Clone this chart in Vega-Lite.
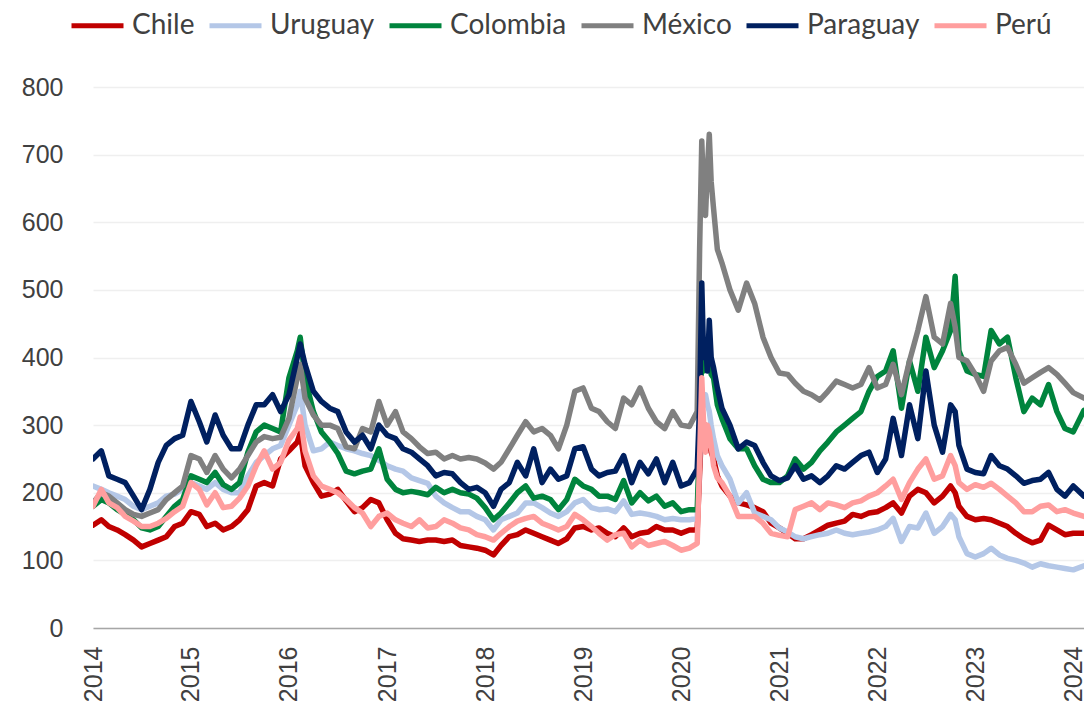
{
  "$schema": "https://vega.github.io/schema/vega-lite/v6.json",
  "width": 991,
  "height": 541,
  "autosize": {"type": "none"},
  "padding": {"left": 93, "top": 87, "right": 0, "bottom": 82},
  "background": "white",
  "config": {"view": {"stroke": null}},
  "data": {"values": [
    {"d":"2014-01-01","Chile":152,"Uruguay":210,"Colombia":180,"México":185,"Paraguay":250,"Perú":180},
    {"d":"2014-02-01","Chile":160,"Uruguay":205,"Colombia":190,"México":200,"Paraguay":262,"Perú":205},
    {"d":"2014-03-01","Chile":150,"Uruguay":200,"Colombia":185,"México":195,"Paraguay":225,"Perú":185},
    {"d":"2014-04-01","Chile":145,"Uruguay":195,"Colombia":175,"México":185,"Paraguay":220,"Perú":178},
    {"d":"2014-05-01","Chile":138,"Uruguay":190,"Colombia":168,"México":175,"Paraguay":215,"Perú":165},
    {"d":"2014-06-01","Chile":130,"Uruguay":180,"Colombia":160,"México":168,"Paraguay":195,"Perú":158},
    {"d":"2014-07-01","Chile":120,"Uruguay":175,"Colombia":148,"México":165,"Paraguay":175,"Perú":150},
    {"d":"2014-08-01","Chile":125,"Uruguay":180,"Colombia":145,"México":170,"Paraguay":205,"Perú":150},
    {"d":"2014-09-01","Chile":130,"Uruguay":185,"Colombia":150,"México":175,"Paraguay":245,"Perú":155},
    {"d":"2014-10-01","Chile":135,"Uruguay":195,"Colombia":165,"México":190,"Paraguay":270,"Perú":162},
    {"d":"2014-11-01","Chile":150,"Uruguay":198,"Colombia":180,"México":200,"Paraguay":280,"Perú":172},
    {"d":"2014-12-01","Chile":155,"Uruguay":205,"Colombia":190,"México":210,"Paraguay":285,"Perú":180},
    {"d":"2015-01-01","Chile":172,"Uruguay":215,"Colombia":225,"México":255,"Paraguay":335,"Perú":215},
    {"d":"2015-02-01","Chile":168,"Uruguay":210,"Colombia":220,"México":250,"Paraguay":305,"Perú":205},
    {"d":"2015-03-01","Chile":150,"Uruguay":205,"Colombia":215,"México":230,"Paraguay":275,"Perú":182},
    {"d":"2015-04-01","Chile":155,"Uruguay":215,"Colombia":230,"México":255,"Paraguay":315,"Perú":200},
    {"d":"2015-05-01","Chile":145,"Uruguay":205,"Colombia":212,"México":235,"Paraguay":285,"Perú":178},
    {"d":"2015-06-01","Chile":150,"Uruguay":200,"Colombia":205,"México":222,"Paraguay":265,"Perú":180},
    {"d":"2015-07-01","Chile":160,"Uruguay":200,"Colombia":215,"México":235,"Paraguay":265,"Perú":192},
    {"d":"2015-08-01","Chile":175,"Uruguay":225,"Colombia":260,"México":255,"Paraguay":300,"Perú":210},
    {"d":"2015-09-01","Chile":210,"Uruguay":245,"Colombia":290,"México":275,"Paraguay":330,"Perú":240},
    {"d":"2015-10-01","Chile":215,"Uruguay":255,"Colombia":300,"México":283,"Paraguay":330,"Perú":262},
    {"d":"2015-11-01","Chile":210,"Uruguay":265,"Colombia":295,"México":280,"Paraguay":345,"Perú":235},
    {"d":"2015-12-01","Chile":250,"Uruguay":270,"Colombia":290,"México":282,"Paraguay":320,"Perú":245},
    {"d":"2016-01-01","Chile":262,"Uruguay":300,"Colombia":370,"México":310,"Paraguay":345,"Perú":278},
    {"d":"2016-02-01","Chile":275,"Uruguay":330,"Colombia":410,"México":370,"Paraguay":400,"Perú":295},
    {"d":"2016-02-12","Chile":288,"Uruguay":350,"Colombia":430,"México":390,"Paraguay":420,"Perú":312},
    {"d":"2016-03-01","Chile":240,"Uruguay":300,"Colombia":370,"México":340,"Paraguay":390,"Perú":262},
    {"d":"2016-04-01","Chile":215,"Uruguay":262,"Colombia":320,"México":315,"Paraguay":350,"Perú":225},
    {"d":"2016-05-01","Chile":195,"Uruguay":265,"Colombia":290,"México":300,"Paraguay":335,"Perú":210},
    {"d":"2016-06-01","Chile":198,"Uruguay":275,"Colombia":275,"México":300,"Paraguay":325,"Perú":205},
    {"d":"2016-07-01","Chile":205,"Uruguay":270,"Colombia":258,"México":295,"Paraguay":320,"Perú":200},
    {"d":"2016-08-01","Chile":188,"Uruguay":265,"Colombia":232,"México":268,"Paraguay":290,"Perú":190},
    {"d":"2016-09-01","Chile":172,"Uruguay":262,"Colombia":228,"México":265,"Paraguay":275,"Perú":178},
    {"d":"2016-10-01","Chile":178,"Uruguay":258,"Colombia":232,"México":295,"Paraguay":285,"Perú":170},
    {"d":"2016-11-01","Chile":190,"Uruguay":255,"Colombia":235,"México":290,"Paraguay":265,"Perú":150},
    {"d":"2016-12-01","Chile":185,"Uruguay":248,"Colombia":265,"México":335,"Paraguay":300,"Perú":165},
    {"d":"2017-01-01","Chile":160,"Uruguay":240,"Colombia":220,"México":300,"Paraguay":285,"Perú":170},
    {"d":"2017-02-01","Chile":140,"Uruguay":235,"Colombia":205,"México":320,"Paraguay":280,"Perú":160},
    {"d":"2017-03-01","Chile":132,"Uruguay":232,"Colombia":200,"México":290,"Paraguay":265,"Perú":155},
    {"d":"2017-04-01","Chile":130,"Uruguay":222,"Colombia":202,"México":280,"Paraguay":260,"Perú":150},
    {"d":"2017-05-01","Chile":128,"Uruguay":218,"Colombia":200,"México":268,"Paraguay":250,"Perú":160},
    {"d":"2017-06-01","Chile":130,"Uruguay":214,"Colombia":197,"México":258,"Paraguay":240,"Perú":148},
    {"d":"2017-07-01","Chile":130,"Uruguay":195,"Colombia":208,"México":260,"Paraguay":225,"Perú":150},
    {"d":"2017-08-01","Chile":128,"Uruguay":185,"Colombia":200,"México":250,"Paraguay":230,"Perú":160},
    {"d":"2017-09-01","Chile":130,"Uruguay":178,"Colombia":205,"México":255,"Paraguay":228,"Perú":155},
    {"d":"2017-10-01","Chile":122,"Uruguay":172,"Colombia":200,"México":250,"Paraguay":215,"Perú":148},
    {"d":"2017-11-01","Chile":120,"Uruguay":172,"Colombia":198,"México":252,"Paraguay":205,"Perú":145},
    {"d":"2017-12-01","Chile":118,"Uruguay":165,"Colombia":192,"México":250,"Paraguay":208,"Perú":138},
    {"d":"2018-01-01","Chile":115,"Uruguay":160,"Colombia":178,"México":244,"Paraguay":200,"Perú":135},
    {"d":"2018-02-01","Chile":108,"Uruguay":145,"Colombia":160,"México":235,"Paraguay":180,"Perú":130},
    {"d":"2018-03-01","Chile":122,"Uruguay":160,"Colombia":170,"México":245,"Paraguay":205,"Perú":140},
    {"d":"2018-04-01","Chile":135,"Uruguay":165,"Colombia":185,"México":265,"Paraguay":215,"Perú":150},
    {"d":"2018-05-01","Chile":138,"Uruguay":170,"Colombia":200,"México":285,"Paraguay":245,"Perú":158},
    {"d":"2018-06-01","Chile":145,"Uruguay":185,"Colombia":210,"México":305,"Paraguay":225,"Perú":162},
    {"d":"2018-07-01","Chile":140,"Uruguay":185,"Colombia":192,"México":290,"Paraguay":265,"Perú":165},
    {"d":"2018-08-01","Chile":135,"Uruguay":178,"Colombia":195,"México":295,"Paraguay":215,"Perú":155},
    {"d":"2018-09-01","Chile":130,"Uruguay":170,"Colombia":190,"México":285,"Paraguay":235,"Perú":150},
    {"d":"2018-10-01","Chile":125,"Uruguay":165,"Colombia":175,"México":265,"Paraguay":220,"Perú":145},
    {"d":"2018-11-01","Chile":132,"Uruguay":172,"Colombia":190,"México":300,"Paraguay":225,"Perú":150},
    {"d":"2018-12-01","Chile":148,"Uruguay":185,"Colombia":220,"México":350,"Paraguay":265,"Perú":168},
    {"d":"2019-01-01","Chile":150,"Uruguay":190,"Colombia":210,"México":355,"Paraguay":268,"Perú":160},
    {"d":"2019-02-01","Chile":145,"Uruguay":178,"Colombia":205,"México":325,"Paraguay":235,"Perú":150},
    {"d":"2019-03-01","Chile":148,"Uruguay":175,"Colombia":195,"México":320,"Paraguay":225,"Perú":140},
    {"d":"2019-04-01","Chile":140,"Uruguay":176,"Colombia":195,"México":305,"Paraguay":230,"Perú":130},
    {"d":"2019-05-01","Chile":135,"Uruguay":172,"Colombia":190,"México":295,"Paraguay":232,"Perú":138},
    {"d":"2019-06-01","Chile":148,"Uruguay":188,"Colombia":218,"México":340,"Paraguay":255,"Perú":140},
    {"d":"2019-07-01","Chile":135,"Uruguay":168,"Colombia":185,"México":330,"Paraguay":215,"Perú":120},
    {"d":"2019-08-01","Chile":140,"Uruguay":170,"Colombia":200,"México":355,"Paraguay":245,"Perú":130},
    {"d":"2019-09-01","Chile":142,"Uruguay":168,"Colombia":188,"México":325,"Paraguay":228,"Perú":122},
    {"d":"2019-10-01","Chile":150,"Uruguay":165,"Colombia":195,"México":305,"Paraguay":250,"Perú":125},
    {"d":"2019-11-01","Chile":145,"Uruguay":160,"Colombia":180,"México":295,"Paraguay":215,"Perú":128},
    {"d":"2019-12-01","Chile":145,"Uruguay":162,"Colombia":185,"México":320,"Paraguay":245,"Perú":122},
    {"d":"2020-01-01","Chile":140,"Uruguay":160,"Colombia":172,"México":300,"Paraguay":210,"Perú":115},
    {"d":"2020-02-01","Chile":145,"Uruguay":160,"Colombia":175,"México":298,"Paraguay":215,"Perú":118},
    {"d":"2020-03-01","Chile":145,"Uruguay":162,"Colombia":175,"México":320,"Paraguay":235,"Perú":125},
    {"d":"2020-03-10","Chile":230,"Uruguay":250,"Colombia":280,"México":560,"Paraguay":330,"Perú":250},
    {"d":"2020-03-18","Chile":300,"Uruguay":340,"Colombia":410,"México":720,"Paraguay":510,"Perú":370},
    {"d":"2020-03-25","Chile":290,"Uruguay":330,"Colombia":380,"México":640,"Paraguay":400,"Perú":300},
    {"d":"2020-04-01","Chile":300,"Uruguay":345,"Colombia":420,"México":610,"Paraguay":420,"Perú":260},
    {"d":"2020-04-08","Chile":280,"Uruguay":330,"Colombia":400,"México":680,"Paraguay":380,"Perú":300},
    {"d":"2020-04-15","Chile":275,"Uruguay":320,"Colombia":415,"México":730,"Paraguay":455,"Perú":290},
    {"d":"2020-04-22","Chile":260,"Uruguay":300,"Colombia":375,"México":660,"Paraguay":400,"Perú":270},
    {"d":"2020-05-01","Chile":250,"Uruguay":280,"Colombia":370,"México":620,"Paraguay":385,"Perú":240},
    {"d":"2020-05-15","Chile":225,"Uruguay":255,"Colombia":330,"México":560,"Paraguay":355,"Perú":222},
    {"d":"2020-06-01","Chile":210,"Uruguay":240,"Colombia":310,"México":540,"Paraguay":325,"Perú":215},
    {"d":"2020-07-01","Chile":195,"Uruguay":220,"Colombia":280,"México":500,"Paraguay":300,"Perú":195},
    {"d":"2020-08-01","Chile":185,"Uruguay":185,"Colombia":265,"México":470,"Paraguay":265,"Perú":165},
    {"d":"2020-09-01","Chile":182,"Uruguay":200,"Colombia":265,"México":510,"Paraguay":275,"Perú":165},
    {"d":"2020-10-01","Chile":178,"Uruguay":170,"Colombia":240,"México":480,"Paraguay":270,"Perú":165},
    {"d":"2020-11-01","Chile":172,"Uruguay":165,"Colombia":220,"México":430,"Paraguay":245,"Perú":155},
    {"d":"2020-12-01","Chile":155,"Uruguay":160,"Colombia":215,"México":400,"Paraguay":225,"Perú":140},
    {"d":"2021-01-01","Chile":148,"Uruguay":148,"Colombia":215,"México":377,"Paraguay":218,"Perú":137},
    {"d":"2021-02-01","Chile":140,"Uruguay":142,"Colombia":225,"México":375,"Paraguay":222,"Perú":135},
    {"d":"2021-03-01","Chile":132,"Uruguay":135,"Colombia":250,"México":362,"Paraguay":240,"Perú":175},
    {"d":"2021-04-01","Chile":132,"Uruguay":132,"Colombia":235,"México":350,"Paraguay":220,"Perú":180},
    {"d":"2021-05-01","Chile":138,"Uruguay":135,"Colombia":245,"México":345,"Paraguay":225,"Perú":185},
    {"d":"2021-06-01","Chile":145,"Uruguay":138,"Colombia":262,"México":337,"Paraguay":215,"Perú":175},
    {"d":"2021-07-01","Chile":152,"Uruguay":140,"Colombia":275,"México":350,"Paraguay":225,"Perú":185},
    {"d":"2021-08-01","Chile":155,"Uruguay":145,"Colombia":290,"México":365,"Paraguay":240,"Perú":182},
    {"d":"2021-09-01","Chile":158,"Uruguay":140,"Colombia":300,"México":360,"Paraguay":235,"Perú":178},
    {"d":"2021-10-01","Chile":168,"Uruguay":138,"Colombia":310,"México":355,"Paraguay":245,"Perú":185},
    {"d":"2021-11-01","Chile":165,"Uruguay":140,"Colombia":320,"México":360,"Paraguay":255,"Perú":188},
    {"d":"2021-12-01","Chile":170,"Uruguay":142,"Colombia":350,"México":385,"Paraguay":260,"Perú":195},
    {"d":"2022-01-01","Chile":172,"Uruguay":145,"Colombia":372,"México":355,"Paraguay":230,"Perú":200},
    {"d":"2022-02-01","Chile":178,"Uruguay":150,"Colombia":380,"México":360,"Paraguay":250,"Perú":210},
    {"d":"2022-03-01","Chile":185,"Uruguay":162,"Colombia":410,"México":390,"Paraguay":310,"Perú":220},
    {"d":"2022-04-01","Chile":170,"Uruguay":128,"Colombia":325,"México":345,"Paraguay":255,"Perú":190},
    {"d":"2022-05-01","Chile":195,"Uruguay":150,"Colombia":395,"México":395,"Paraguay":330,"Perú":215},
    {"d":"2022-06-01","Chile":205,"Uruguay":148,"Colombia":350,"México":440,"Paraguay":280,"Perú":235},
    {"d":"2022-07-01","Chile":200,"Uruguay":170,"Colombia":430,"México":490,"Paraguay":380,"Perú":250},
    {"d":"2022-08-01","Chile":185,"Uruguay":140,"Colombia":385,"México":430,"Paraguay":300,"Perú":220},
    {"d":"2022-09-01","Chile":195,"Uruguay":150,"Colombia":410,"México":420,"Paraguay":260,"Perú":225},
    {"d":"2022-10-01","Chile":210,"Uruguay":168,"Colombia":440,"México":480,"Paraguay":330,"Perú":255},
    {"d":"2022-10-18","Chile":200,"Uruguay":160,"Colombia":520,"México":445,"Paraguay":320,"Perú":240},
    {"d":"2022-11-01","Chile":180,"Uruguay":135,"Colombia":410,"México":400,"Paraguay":270,"Perú":215},
    {"d":"2022-12-01","Chile":165,"Uruguay":110,"Colombia":380,"México":395,"Paraguay":235,"Perú":205},
    {"d":"2023-01-01","Chile":160,"Uruguay":105,"Colombia":375,"México":375,"Paraguay":230,"Perú":212},
    {"d":"2023-02-01","Chile":162,"Uruguay":110,"Colombia":372,"México":350,"Paraguay":228,"Perú":208},
    {"d":"2023-03-01","Chile":160,"Uruguay":118,"Colombia":440,"México":395,"Paraguay":255,"Perú":214},
    {"d":"2023-04-01","Chile":155,"Uruguay":108,"Colombia":420,"México":410,"Paraguay":240,"Perú":205},
    {"d":"2023-05-01","Chile":150,"Uruguay":103,"Colombia":430,"México":415,"Paraguay":235,"Perú":195},
    {"d":"2023-06-01","Chile":140,"Uruguay":100,"Colombia":370,"México":390,"Paraguay":225,"Perú":185},
    {"d":"2023-07-01","Chile":132,"Uruguay":96,"Colombia":320,"México":362,"Paraguay":214,"Perú":172},
    {"d":"2023-08-01","Chile":126,"Uruguay":90,"Colombia":340,"México":370,"Paraguay":218,"Perú":172},
    {"d":"2023-09-01","Chile":130,"Uruguay":95,"Colombia":330,"México":378,"Paraguay":220,"Perú":180},
    {"d":"2023-10-01","Chile":152,"Uruguay":92,"Colombia":360,"México":385,"Paraguay":230,"Perú":182},
    {"d":"2023-11-01","Chile":145,"Uruguay":90,"Colombia":320,"México":375,"Paraguay":205,"Perú":172},
    {"d":"2023-12-01","Chile":138,"Uruguay":88,"Colombia":295,"México":362,"Paraguay":195,"Perú":175},
    {"d":"2024-01-01","Chile":140,"Uruguay":86,"Colombia":290,"México":348,"Paraguay":210,"Perú":170},
    {"d":"2024-02-10","Chile":140,"Uruguay":92,"Colombia":322,"México":340,"Paraguay":195,"Perú":165}
  ]},
  "transform": [
    {"fold": ["Chile", "Uruguay", "Colombia", "México", "Paraguay", "Perú"], "as": ["pais", "v"]}
  ],
  "mark": {"type": "line", "strokeWidth": 5.5, "strokeJoin": "round", "strokeCap": "round", "clip": true},
  "encoding": {
    "x": {
      "field": "d", "type": "temporal",
      "scale": {"type": "utc", "domain": [{"year": 2014, "month": 1, "date": 1, "utc": true}, {"year": 2024, "month": 2, "date": 10, "utc": true}]},
      "axis": {
        "title": null, "format": "%Y", "labelAngle": 270,
        "tickCount": {"interval": "year", "step": 1},
        "grid": false, "ticks": false,
        "domain": true, "domainColor": "#A6A6A6", "domainWidth": 1.5,
        "labelFont": "Liberation Sans", "labelFontSize": 25, "labelColor": "#404040",
        "labelPadding": 18, "labelOverlap": false, "labelFlush": false
      }
    },
    "y": {
      "field": "v", "type": "quantitative",
      "scale": {"domain": [0, 800], "nice": false},
      "axis": {
        "title": null, "values": [0, 100, 200, 300, 400, 500, 600, 700, 800],
        "domain": false, "ticks": false, "grid": true,
        "gridColor": "#EFEFEF", "gridWidth": 1.3,
        "labelFont": "Liberation Sans", "labelFontSize": 25, "labelColor": "#404040",
        "labelPadding": 30
      }
    },
    "color": {
      "field": "pais", "type": "nominal",
      "scale": {
        "domain": ["Chile", "Uruguay", "Colombia", "México", "Paraguay", "Perú"],
        "range": ["#C00000", "#B4C7E7", "#00843D", "#808080", "#002060", "#FF9E9E"]
      },
      "legend": {
        "title": null, "orient": "none", "direction": "horizontal",
        "legendX": -24, "legendY": -90,
        "symbolType": "stroke", "symbolSize": 2704, "symbolStrokeWidth": 5,
        "labelFont": "Lato", "labelFontSize": 28, "labelColor": "#404040",
        "labelOffset": 6, "columnPadding": 4, "padding": 0
      }
    }
  }
}
